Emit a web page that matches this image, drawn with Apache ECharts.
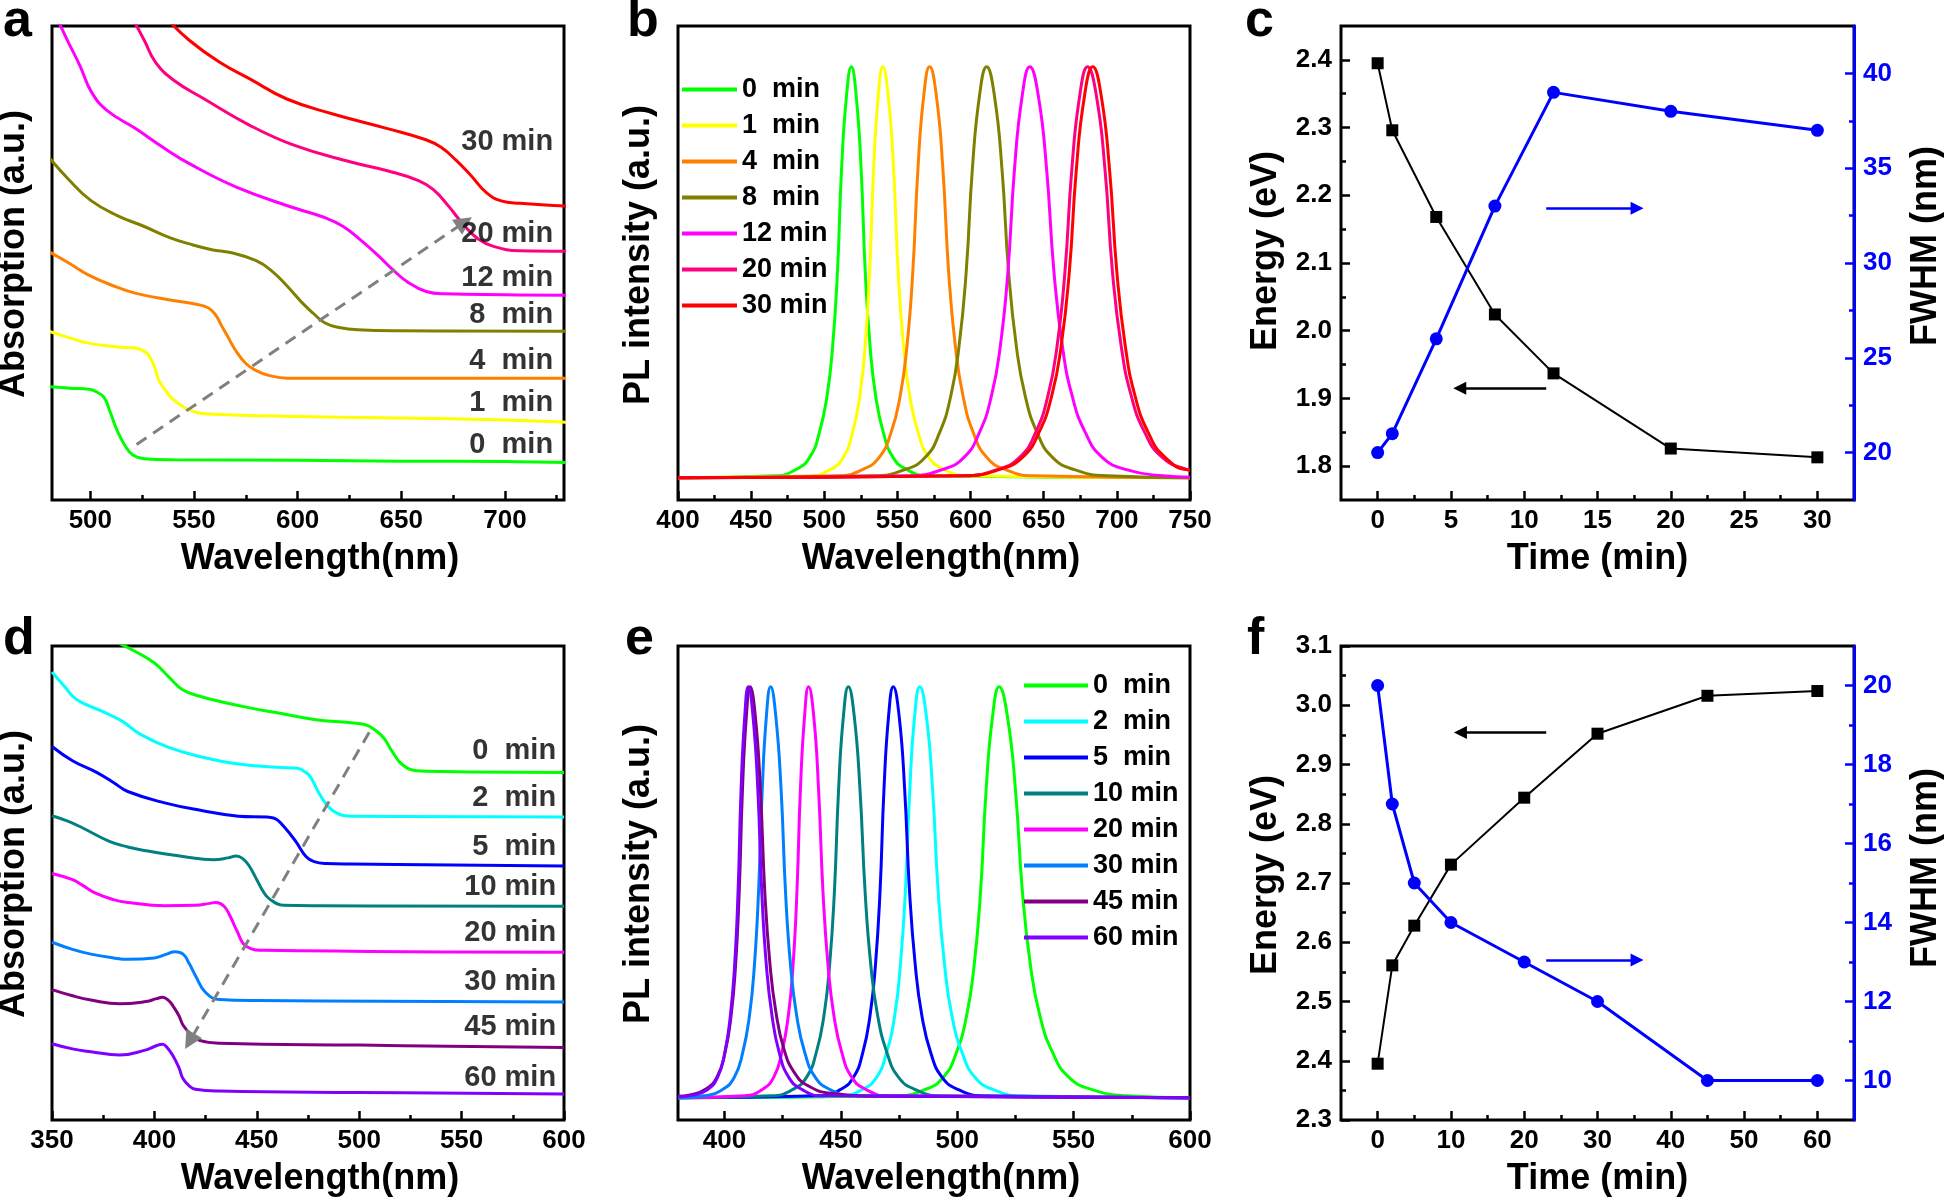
<!DOCTYPE html>
<html><head><meta charset="utf-8">
<script src="https://cdn.jsdelivr.net/npm/echarts@6/dist/echarts.min.js"></script>
<style>html,body{margin:0;padding:0;background:#fff}#chart{width:1946px;height:1200px}</style>
</head><body><div id="chart"></div>
<script>
// ---------------- DATA ----------------
// Panel a : absorption (arbitrary offset units), time series 0..30 min
const aNames = ['0  min','1  min','4  min','8  min','12 min','20 min','30 min'];
const a0  = [[480,23.9],[490,23.6],[500,23.3],[503,22.8],[506.7,21.6],[509.6,18.5],[513,14.6],[517,11.3],[520.5,9.5],[526,8.7],[540,8.5],[600,8.4],[650,8.2],[700,8.1],[730,7.9]];
const a1  = [[480,35.6],[490,34.2],[499,33.1],[513,32.3],[522,32],[525,31.6],[528,30.6],[531,28],[533,25.3],[536,23.3],[539,21.6],[544,19.9],[549.5,18.7],[555,18.2],[600,17.6],[650,17.3],[700,16.9],[730,16.4]];
const a4  = [[480,52.4],[490,49.9],[499,47.5],[511,45.2],[522,43.6],[540,42.1],[551,41.3],[557,40.5],[560.5,39],[563,37],[566,34.7],[570,31.6],[575,28.8],[580,27.3],[586,26.3],[595,25.7],[650,25.7],[730,25.7]];
const a8  = [[480,72.3],[490,67.4],[500.5,63.1],[513,60],[526,57.7],[538.6,55.3],[549.5,53.8],[558.6,52.8],[567.6,52.2],[580,50.5],[587.6,48.3],[594.8,45.2],[602,41.7],[607.5,39.4],[613,37.4],[620,36.4],[629,35.9],[650,35.7],[730,35.6]];
const a12 = [[484,101.5],[489.7,96.3],[495,91.6],[500.5,86.1],[508,82.2],[522,78.3],[535,74.4],[548,70.9],[571,65.9],[598.5,61.6],[613,59.6],[622,57.7],[631,54.6],[640,51.1],[645.6,48.7],[653,46],[662,44],[671,43.5],[700,43.3],[730,43.2]];
const a20 = [[520.5,101.5],[526,97],[531.4,92.4],[540.4,88.5],[555,84.6],[576.7,79.1],[598.5,74.8],[625.7,71.3],[643.8,69.4],[658.3,67.4],[665.5,65.5],[672.8,62],[680,58.1],[687.3,55],[694.5,53.5],[707,52.6],[730,52.5]];
const a30 = [[537,101.5],[547.7,97],[562.2,92.4],[576.7,88.9],[594.8,84.6],[616.6,81.5],[643.8,78.3],[661.9,76],[669.2,74.4],[676.4,71.7],[683.7,68.4],[690.9,64.9],[698.2,63.1],[707.2,62.6],[730,62]];
const aCurves = [a0,a1,a4,a8,a12,a20,a30];
const aXMajor = [500,550,600,650,700];
const aXMinor = [525,575,625,675,725];

// Panel b : PL spectra (normalised intensity)
const bNames = ['0  min','1  min','4  min','8  min','12 min','20 min','30 min'];
const b0  = [[400,.047],[466,.051],[480.5,.064],[490,.09],[496.6,.142],[501.9,.22],[505.7,.324],[509,.481],[511.8,.697],[515.2,.853],[518.5,.914],[521.8,.853],[525.2,.697],[528,.481],[531.3,.324],[535.1,.22],[540.4,.142],[547,.09],[556.5,.064],[570.8,.051],[750,.047]];
const b1  = [[400,.047],[490.5,.051],[504,.064],[513,.09],[519.3,.142],[524.3,.22],[527.9,.324],[531,.481],[533.7,.697],[536.9,.853],[540,.914],[543.7,.853],[547.4,.697],[550.5,.481],[554.2,.324],[558.4,.22],[564.2,.142],[571.5,.09],[582,.064],[597.8,.051],[750,.047]];
const b4  = [[400,.047],[508.8,.051],[526,.064],[537.5,.09],[545.6,.142],[551.9,.22],[556.5,.324],[560.5,.481],[564,.697],[568,.853],[572,.914],[576.6,.853],[581.1,.697],[585,.481],[589.6,.324],[594.8,.22],[601.9,.142],[611,.09],[624,.064],[643.5,.051],[750,.047]];
const b8  = [[400,.047],[534,.051],[555,.064],[569,.09],[578.8,.142],[586.5,.22],[592.1,.324],[597,.481],[601.2,.697],[606.1,.853],[611,.914],[616.3,.853],[621.5,.697],[626,.481],[631.3,.324],[637.3,.22],[645.5,.142],[656,.09],[671,.064],[693.5,.051],[750,.047]];
const b12 = [[400,.047],[558,.051],[580.5,.064],[595.5,.09],[606,.142],[614.3,.22],[620.3,.324],[625.5,.481],[630,.697],[635.3,.853],[640.5,.914],[646.3,.853],[652,.697],[657,.481],[662.8,.324],[669.4,.22],[678.5,.142],[690,.09],[706.5,.064],[731.3,.051],[750,.048]];
const b20 = [[400,.047],[594.8,.051],[618,.064],[633.5,.09],[644.4,.142],[652.9,.22],[659.1,.324],[664.5,.481],[669.2,.697],[674.6,.853],[680,.914],[686,.853],[691.9,.697],[697,.481],[703,.324],[709.8,.22],[719.1,.142],[731,.09],[748,.064],[750,.063]];
const b30 = [[400,.047],[595.5,.051],[619.5,.064],[635.5,.09],[646.7,.142],[655.5,.22],[661.9,.324],[667.5,.481],[672.3,.697],[677.9,.853],[683.5,.914],[689.3,.853],[695,.697],[700,.481],[705.8,.324],[712.4,.22],[721.5,.142],[733,.09],[749.5,.064],[750,.064]];
const bCurves = [b0,b1,b4,b8,b12,b20,b30];
const bXMajor = [400,450,500,550,600,650,700,750];
const bXMinor = [425,475,525,575,625,675,725];

// Panel c : energy & FWHM vs time
const cTime   = [0,1,4,8,12,20,30];
const cEnergy = [2.395,2.296,2.168,2.024,1.937,1.826,1.813];
const cFWHM   = [20,21,26,33,39,38,37];
const cXMajor = [0,5,10,15,20,25,30];
const cXMinor = [2.5,7.5,12.5,17.5,22.5,27.5];
const cYLMajor = [1.8,1.9,2.0,2.1,2.2,2.3,2.4];
const cYLMinor = [1.85,1.95,2.05,2.15,2.25,2.35];
const cYRMajor = [20,25,30,35,40];
const cYRMinor = [22.5,27.5,32.5,37.5];

// Panel d : absorption, 0..60 min
const dNames = ['0  min','2  min','5  min','10 min','20 min','30 min','45 min','60 min'];
const d0  = [[383,100.5],[390,99],[400,96.4],[407,93.5],[414,90.7],[423,89.3],[432,88.3],[446,87],[460,85.9],[478,84.5],[496,83.8],[503,83.4],[506.7,82.6],[512,80.6],[516,77.8],[521,75],[528,73.7],[541,73.5],[600,73.3]];
const d2  = [[350,94.5],[356,91.5],[362,88.7],[374,86.3],[384,84.2],[393,81.4],[407,78.6],[423,76.6],[441,75.1],[460,74.4],[470,74.2],[473,73.6],[476,72.5],[481,68.5],[487,65.3],[496,64.1],[600,63.9]];
const d5  = [[350,78.8],[360,75.8],[372,73.3],[380,71.2],[387,69.3],[405,66.9],[423,65.3],[441,64.1],[455,63.9],[459,63.6],[463,62],[469,58.8],[474,55.6],[478,54.5],[484,54.1],[496,54],[600,53.6]];
const d10 = [[350,64.2],[358,63],[365,61.6],[378,58.8],[387,57.6],[396,56.8],[414,55.6],[429,54.9],[436,55.3],[440,55.7],[443,55.2],[446,53.8],[450,50.7],[453,48.3],[456,46.7],[463,45.3],[480,45.2],[600,45.1]];
const d20 = [[350,52],[360,50.7],[365,49.5],[371,47.9],[380,46.5],[387,45.9],[405,45.2],[420,45.3],[427,45.7],[430,45.9],[434,45.1],[437,43],[440,40.2],[445,36.6],[454,35.8],[600,35.4]];
const d30 = [[350,37.5],[360,36],[369,35],[380,34.2],[387,33.9],[400,34.2],[406,35],[410,35.5],[414,35],[417,33],[420,30.5],[425,26.9],[432,25.4],[450,25.2],[600,24.9]];
const d45 = [[350,27.5],[360,26.2],[369,25.3],[383,24.5],[396,25],[401,25.6],[404,25.9],[407,25.2],[409,24.1],[412,22],[414,20],[418,18],[422,16.8],[432,16.2],[500,15.8],[600,15.3]];
const d60 = [[350,16.1],[360,15],[369,14.4],[383,13.7],[396,14.8],[400,15.5],[404,16],[406,15.4],[409,13.6],[412,11],[414,8.7],[417,7.2],[420,6.5],[432,6.1],[500,5.8],[600,5.5]];
const dCurves = [d0,d2,d5,d10,d20,d30,d45,d60];
const dXMajor = [350,400,450,500,550,600];
const dXMinor = [375,425,475,525,575];

// Panel e : PL spectra
const eNames = ['0  min ','2  min ','5  min ','10 min ','20 min ','30 min ','45 min ','60 min '];
const e0  = [[380,.047],[474,.051],[486,.064],[494,.09],[499.6,.142],[504,.22],[507.2,.324],[510,.481],[512.4,.697],[515.2,.853],[518,.914],[521.5,.853],[525,.697],[528,.481],[531.5,.324],[535.5,.22],[541,.142],[548,.09],[558,.064],[573,.051],[600,.047]];
const e2  = [[380,.047],[449.8,.051],[459.1,.064],[465.3,.09],[469.6,.142],[473.1,.22],[475.5,.324],[477.7,.481],[479.6,.697],[481.7,.853],[483.9,.914],[486.7,.853],[489.4,.697],[491.8,.481],[494.6,.324],[497.7,.22],[502.1,.142],[507.6,.09],[515.5,.064],[527.4,.051],[600,.047]];
const e5  = [[380,.047],[441.2,.051],[449.7,.064],[455.4,.09],[459.4,.142],[462.5,.22],[464.8,.324],[466.8,.481],[468.5,.697],[470.5,.853],[472.5,.914],[475,.853],[477.4,.697],[479.5,.481],[482,.324],[484.8,.22],[488.6,.142],[493.5,.09],[500.5,.064],[511,.051],[600,.047]];
const e10 = [[380,.047],[420.2,.051],[429.2,.064],[435.2,.09],[439.4,.142],[442.7,.22],[445.1,.324],[447.2,.481],[449,.697],[451.1,.853],[453.2,.914],[455.7,.853],[458.2,.697],[460.4,.481],[462.9,.324],[465.8,.22],[469.8,.142],[474.8,.09],[482,.064],[492.8,.051],[600,.047]];
const e20 = [[380,.047],[408.6,.051],[416.1,.064],[421.1,.09],[424.6,.142],[427.4,.22],[429.4,.324],[431.1,.481],[432.6,.697],[434.4,.853],[436.1,.914],[438.3,.853],[440.4,.697],[442.3,.481],[444.5,.324],[447,.22],[450.4,.142],[454.7,.09],[460.9,.064],[470.2,.051],[600,.047]];
const e30 = [[380,.047],[391.2,.051],[399,.064],[404.2,.09],[407.8,.142],[410.7,.22],[412.8,.324],[414.6,.481],[416.2,.697],[418,.853],[419.8,.914],[422,.853],[424.3,.697],[426.2,.481],[428.4,.324],[431,.22],[434.5,.142],[439,.09],[445.4,.064],[455,.051],[600,.047]];
const e45 = [[380,.05],[385.2,.053],[392.2,.066],[396.9,.092],[400.2,.142],[402.8,.22],[404.7,.324],[406.3,.481],[407.7,.697],[409.4,.853],[411,.914],[413.2,.853],[415.4,.697],[417.3,.481],[419.5,.33],[422,.23],[425.5,.15],[430,.1],[436,.072],[446,.056],[470,.05],[600,.047]];
const e60 = [[380,.049],[386,.052],[392.6,.064],[397,.09],[400.1,.142],[402.5,.22],[404.3,.324],[405.8,.481],[407.1,.697],[408.7,.853],[410.2,.914],[412.2,.853],[414.3,.697],[416,.481],[418,.324],[420.4,.22],[423.5,.142],[427.6,.09],[433.4,.064],[442.1,.051],[600,.047]];
const eCurves = [e0,e2,e5,e10,e20,e30,e45,e60];
const eXMajor = [400,450,500,550,600];
const eXMinor = [425,475,525,575];

// Panel f : energy & FWHM vs time
const fTime   = [0,2,5,10,20,30,45,60];
const fEnergy = [2.395,2.561,2.628,2.731,2.844,2.952,3.016,3.024];
const fFWHM   = [20,17,15,14,13,12,10,10];
const fXMajor = [0,10,20,30,40,50,60];
const fXMinor = [5,15,25,35,45,55];
const fYLMajor = [2.3,2.4,2.5,2.6,2.7,2.8,2.9,3.0,3.1];
const fYLMinor = [2.35,2.45,2.55,2.65,2.75,2.85,2.95,3.05];
const fYRMajor = [10,12,14,16,18,20];
const fYRMinor = [11,13,15,17,19];

// ---------------- STYLE / LAYOUT ----------------
const FONT = "'Liberation Sans', Arial, Helvetica, sans-serif";
const abColors = ['#00ff00','#ffff00','#ff8000','#808000','#ff00ff','#ff0080','#ff0000'];
const deColors = ['#00ff00','#00ffff','#0000ff','#008080','#ff00ff','#0080ff','#800080','#8000ff'];
const BLUE = '#0000ff';

const grids = [
  {left:52, top:26, width:512, height:474},
  {left:678, top:26, width:512, height:474},
  {left:1341, top:26, width:513, height:474},
  {left:52, top:646, width:512, height:474},
  {left:678, top:646, width:512, height:474},
  {left:1341, top:646, width:513, height:474}
].map(g => Object.assign(g, {show:true, borderColor:'#000', borderWidth:3, backgroundColor:'rgba(0,0,0,0)', containLabel:false, outerBoundsMode:'none'}));

// annotation anchors (data coordinates)
const aLabelAnchor = {x:723.5, y:[11.7,20.5,29.4,39.0,46.8,56.1,75.6]};
const dLabelAnchor = {x:596.4, y:[77.8,67.9,57.6,49.1,39.4,29.2,19.6,8.9]};
const aArrow = [[522.3,11.7],[680.5,58.6]];
const dArrow = [[504.9,81.8],[417.2,16.6]];
const cArrows = {black:[[11.5,1.915],[5.6,1.915]], blue:[[11.5,2.181],[17.7,2.181]]};
const fArrows = {black:[[23.0,2.954],[11.3,2.954]], blue:[[23.0,2.57],[35.4,2.57]]};

// ---------------- AXES ----------------
function axisBase(gi, min, max, position) {
  return {type:'value', gridIndex:gi, min:min, max:max, position:position,
    splitLine:{show:false}, axisLine:{show:false, onZero:false}, axisTick:{show:false}, axisLabel:{show:false}};
}
function nameStyle(shift) {
  return {color:'#000', fontSize:36, fontWeight:'bold', fontFamily:FONT, padding:[0,0,0,shift || 0]};
}
function majorAxis(gi, min, max, position, ticks, color, fmt, name, nameGap, shift) {
  const ax = axisBase(gi, min, max, position);
  ax.axisTick = {show:true, inside:true, length:9, customValues:ticks, lineStyle:{color:color, width:2.5}};
  ax.axisLabel = {show:true, customValues:ticks, margin:(position === 'bottom' ? 8 : 9), color:color,
    fontSize:26, fontWeight:'bold', fontFamily:FONT};
  if (fmt) ax.axisLabel.formatter = fmt;
  if (name) {
    ax.name = name; ax.nameLocation = 'middle'; ax.nameGap = nameGap; ax.nameTextStyle = nameStyle(shift);
    if (position !== 'bottom') ax.nameRotate = 90;
  }
  return ax;
}
function minorAxis(gi, min, max, position, ticks, color) {
  const ax = axisBase(gi, min, max, position);
  ax.axisTick = {show:true, inside:true, length:5, customValues:ticks, lineStyle:{color:color, width:2.5}};
  return ax;
}
function nameOnlyY(gi, max, name, gap, shift) {
  const ax = axisBase(gi, 0, max, 'left');
  ax.name = name; ax.nameLocation = 'middle'; ax.nameGap = gap; ax.nameRotate = 90; ax.nameTextStyle = nameStyle(shift);
  return ax;
}
const fmt1 = v => Number(v).toFixed(1);

const xAxis = [
  majorAxis(0, 481.5, 728.5, 'bottom', aXMajor, '#000', null, 'Wavelength(nm)', 41, 24),
  minorAxis(0, 481.5, 728.5, 'bottom', aXMinor, '#000'),
  majorAxis(1, 400, 750, 'bottom', bXMajor, '#000', null, 'Wavelength(nm)', 41, 14),
  minorAxis(1, 400, 750, 'bottom', bXMinor, '#000'),
  majorAxis(2, -2.5, 32.5, 'bottom', cXMajor, '#000', null, 'Time (min)', 41, 0),
  minorAxis(2, -2.5, 32.5, 'bottom', cXMinor, '#000'),
  majorAxis(3, 350, 600, 'bottom', dXMajor, '#000', null, 'Wavelength(nm)', 41, 24),
  minorAxis(3, 350, 600, 'bottom', dXMinor, '#000'),
  majorAxis(4, 380, 600, 'bottom', eXMajor, '#000', null, 'Wavelength(nm)', 41, 14),
  minorAxis(4, 380, 600, 'bottom', eXMinor, '#000'),
  majorAxis(5, -5, 65, 'bottom', fXMajor, '#000', null, 'Time (min)', 41, 0),
  minorAxis(5, -5, 65, 'bottom', fXMinor, '#000')
];
const cRight = majorAxis(2, 17.5, 42.5, 'right', cYRMajor, BLUE, null, 'FWHM (nm)', 54, 34);
cRight.axisLine = {show:true, onZero:false, lineStyle:{color:BLUE, width:3}};
const fRight = majorAxis(5, 9, 21, 'right', fYRMajor, BLUE, null, 'FWHM (nm)', 54, 30);
fRight.axisLine = {show:true, onZero:false, lineStyle:{color:BLUE, width:3}};
const yAxis = [
  nameOnlyY(0, 100, 'Absorption (a.u.)', 20, 18),
  nameOnlyY(1, 1, 'PL intensity (a.u.)', 21, 16),
  majorAxis(2, 1.75, 2.45, 'left', cYLMajor, '#000', fmt1, 'Energy (eV)', 57, 24),
  minorAxis(2, 1.75, 2.45, 'left', cYLMinor, '#000'),
  cRight,
  minorAxis(2, 17.5, 42.5, 'right', cYRMinor, BLUE),
  nameOnlyY(3, 100, 'Absorption (a.u.)', 20, 18),
  nameOnlyY(4, 1, 'PL intensity (a.u.)', 21, 18),
  majorAxis(5, 2.3, 3.1, 'left', fYLMajor, '#000', fmt1, 'Energy (eV)', 57, 16),
  minorAxis(5, 2.3, 3.1, 'left', fYLMinor, '#000'),
  fRight,
  minorAxis(5, 9, 21, 'right', fYRMinor, BLUE)
];

// ---------------- SERIES ----------------
function curve(name, data, color, xi, yi, smooth) {
  return {type:'line', name:name, xAxisIndex:xi, yAxisIndex:yi, data:data, symbol:'none', showSymbol:false,
    smooth:smooth, clip:true, silent:true,
    lineStyle:{color:color, width:3}, itemStyle:{color:color}, emphasis:{disabled:true}};
}
function labels(names, anchor, xi, yi) {
  return {type:'scatter', xAxisIndex:xi, yAxisIndex:yi, silent:true, symbolSize:1, z:6,
    itemStyle:{color:'rgba(0,0,0,0)'},
    label:{show:true, position:'left', distance:0, formatter:'{b}', color:'#000', fontSize:29, fontWeight:'bold', fontFamily:FONT},
    data: names.map((t, i) => ({name:t, value:[anchor.x, anchor.y[i]]}))};
}
function arrow(xi, yi, coords, color, width, dashed, size) {
  return {type:'lines', coordinateSystem:'cartesian2d', xAxisIndex:xi, yAxisIndex:yi, silent:true, z:5,
    symbol:['none','triangle'], symbolSize:size,
    lineStyle:{color:color, width:width, type:dashed ? [12,8] : 'solid', opacity:1, curveness:0},
    data:[{coords:coords}]};
}
function timeSeries(name, t, v, xi, yi, symbol, size, color, width) {
  return {type:'line', name:name, xAxisIndex:xi, yAxisIndex:yi, data:t.map((x, i) => [x, v[i]]),
    symbol:symbol, symbolSize:size, showSymbol:true, silent:true,
    itemStyle:{color:color}, lineStyle:{color:color, width:width}, emphasis:{disabled:true}};
}

const series = [];
aCurves.forEach((d, i) => series.push(curve('a ' + aNames[i], d, abColors[i], 0, 0, 0.45)));
series.push(labels(aNames, aLabelAnchor, 0, 0));
series.push(arrow(0, 0, aArrow, '#808080', 3, true, 18));

bCurves.forEach((d, i) => series.push(curve(bNames[i], d, abColors[i], 2, 1, 0.5)));

series.push(timeSeries('c energy', cTime, cEnergy, 4, 2, 'rect', 12, '#000', 2));
series.push(timeSeries('c fwhm', cTime, cFWHM, 4, 4, 'circle', 13, BLUE, 3));
series.push(arrow(4, 2, cArrows.black, '#000', 2.5, false, 13));
series.push(arrow(4, 2, cArrows.blue, BLUE, 2.5, false, 13));

dCurves.forEach((d, i) => series.push(curve('d ' + dNames[i], d, deColors[i], 6, 6, 0.45)));
series.push(labels(dNames, dLabelAnchor, 6, 6));
series.push(arrow(6, 6, dArrow, '#808080', 3, true, 18));

eCurves.forEach((d, i) => series.push(curve(eNames[i], d, deColors[i], 8, 7, 0.5)));

series.push(timeSeries('f energy', fTime, fEnergy, 10, 8, 'rect', 12, '#000', 2));
series.push(timeSeries('f fwhm', fTime, fFWHM, 10, 10, 'circle', 13, BLUE, 3));
series.push(arrow(10, 8, fArrows.black, '#000', 2.5, false, 13));
series.push(arrow(10, 8, fArrows.blue, BLUE, 2.5, false, 13));

const legendText = {fontSize:27, fontWeight:'bold', fontFamily:FONT, color:'#000', lineHeight:27};
const legend = [
  {data:bNames, orient:'vertical', left:682, top:76, itemWidth:55, itemHeight:4, itemGap:9, icon:'rect',
   padding:0, selectedMode:false, textStyle:legendText},
  {data:eNames, orient:'vertical', left:1024, top:672, itemWidth:64, itemHeight:4, itemGap:9, icon:'rect',
   padding:0, selectedMode:false, textStyle:legendText}
];

const panelLetters = [
  {t:'a', x:3, y:22}, {t:'b', x:627, y:22}, {t:'c', x:1245, y:22},
  {t:'d', x:3, y:640}, {t:'e', x:625, y:640}, {t:'f', x:1247, y:640}
];
const graphic = panelLetters.map(p => ({type:'text', x:p.x, y:p.y, silent:true,
  style:{text:p.t, font:'bold 52px ' + FONT, fill:'#000', verticalAlign:'middle', textVerticalAlign:'middle'}}));

const chart = echarts.init(document.getElementById('chart'), null, {renderer:'canvas'});
chart.setOption({animation:false, backgroundColor:'#fff', tooltip:{show:false},
  grid:grids, xAxis:xAxis, yAxis:yAxis, legend:legend, series:series, graphic:graphic});
</script></body></html>
